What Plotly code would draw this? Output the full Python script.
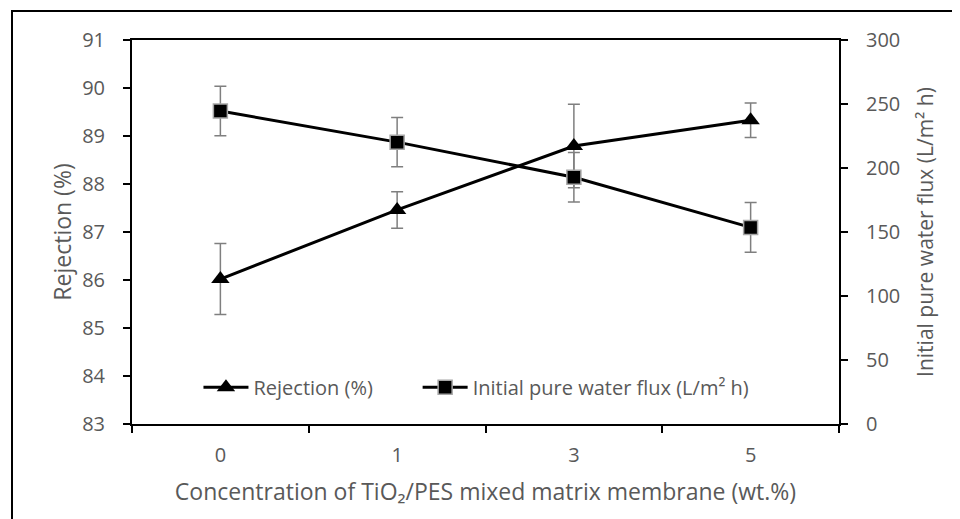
import plotly.graph_objects as go

concentrations = ["0", "1", "3", "5"]
rejection = [86.02, 87.46, 88.79, 89.33]
rejection_err = [0.74, 0.38, 0.87, 0.36]
flux = [244.5, 220.2, 192.8, 153.6]
flux_err = [19.3, 19.2, 19.3, 19.4]

GRAY = "#595959"
FONT = "Open Sans"
# page body adds an 8px offset, margins are compensated for it
L, T, R, B = 124, 32, 129, 103
PW, PH = 960 - L - R, 519 - T - B

fig = go.Figure()
fig.add_trace(go.Scatter(
    x=concentrations, y=rejection, name="Rejection (%)", mode="lines+markers",
    line=dict(color="black", width=3),
    marker=dict(symbol="triangle-up", size=16, color="black"),
    error_y=dict(type="data", array=rejection_err, color="#7f7f7f", thickness=1.5, width=6),
))
fig.add_trace(go.Scatter(
    x=concentrations, y=flux, name="Initial pure water flux (L/m² h)", mode="lines+markers",
    yaxis="y2", legend="legend2",
    line=dict(color="black", width=3),
    marker=dict(symbol="square", size=14, color="black", line=dict(color="#a6a6a6", width=1.5)),
    error_y=dict(type="data", array=flux_err, color="#7f7f7f", thickness=1.5, width=6),
))

# outer frame of the picture
fig.add_shape(type="rect", xref="paper", yref="paper",
              x0=(4 - L) / PW, x1=(970 - L) / PW,
              y0=-(B + 10) / PH, y1=(PH + T - 3) / PH,
              line=dict(color="black", width=2))

tick_style = dict(ticklen=7, tickcolor="black", tickwidth=2, showgrid=False, zeroline=False)
n = len(concentrations)
bounds = [i - 0.5 for i in range(n + 1)]
legend_style = dict(orientation="h", y=0.096, xanchor="left", yanchor="middle",
                    bgcolor="rgba(0,0,0,0)", font=dict(size=20, color=GRAY), itemwidth=45)

fig.update_layout(
    width=960, height=519,
    margin=dict(l=L, r=R, t=T, b=B),
    plot_bgcolor="white", paper_bgcolor="white",
    font=dict(family=FONT, size=20, color=GRAY),
    showlegend=True,
    legend=dict(x=0.094, **legend_style),
    legend2=dict(x=0.404, **legend_style),
    xaxis=dict(
        type="category", tickson="boundaries", range=[-0.5, n - 0.5],
        showline=True, linecolor="black", linewidth=2, mirror=True,
        ticks="outside", **tick_style,
        tickfont=dict(size=20, color=GRAY), ticklabelstandoff=12,
        title=dict(text="Concentration of TiO₂/PES mixed matrix membrane (wt.%)",
                   font=dict(size=23, color=GRAY), standoff=17),
    ),
    xaxis2=dict(
        overlaying="x", range=[-0.5, n - 0.5], tickvals=bounds, showticklabels=False,
        ticks="inside", showline=False, anchor="y", side="bottom", **tick_style,
    ),
    yaxis=dict(
        range=[83, 91], dtick=1,
        showline=True, linecolor="black", linewidth=2,
        ticks="outside", **tick_style,
        tickfont=dict(size=20, color=GRAY), ticklabelstandoff=14,
        title=dict(text="Rejection (%)", font=dict(size=23, color=GRAY), standoff=4),
    ),
    yaxis3=dict(
        overlaying="y", range=[83, 91], dtick=1, showticklabels=False,
        ticks="inside", showline=False, side="left", anchor="x", **tick_style,
    ),
    yaxis2=dict(
        range=[0, 300], dtick=50, overlaying="y", side="right",
        showline=True, linecolor="black", linewidth=2,
        ticks="outside", **tick_style,
        tickfont=dict(size=20, color=GRAY), ticklabelstandoff=14,
        title=dict(text="Initial pure water flux (L/m² h)", font=dict(size=21, color=GRAY), standoff=19),
    ),
    yaxis4=dict(
        overlaying="y", range=[0, 300], dtick=50, showticklabels=False,
        ticks="inside", showline=False, side="right", anchor="x", **tick_style,
    ),
)

fig.write_html("out.html")
